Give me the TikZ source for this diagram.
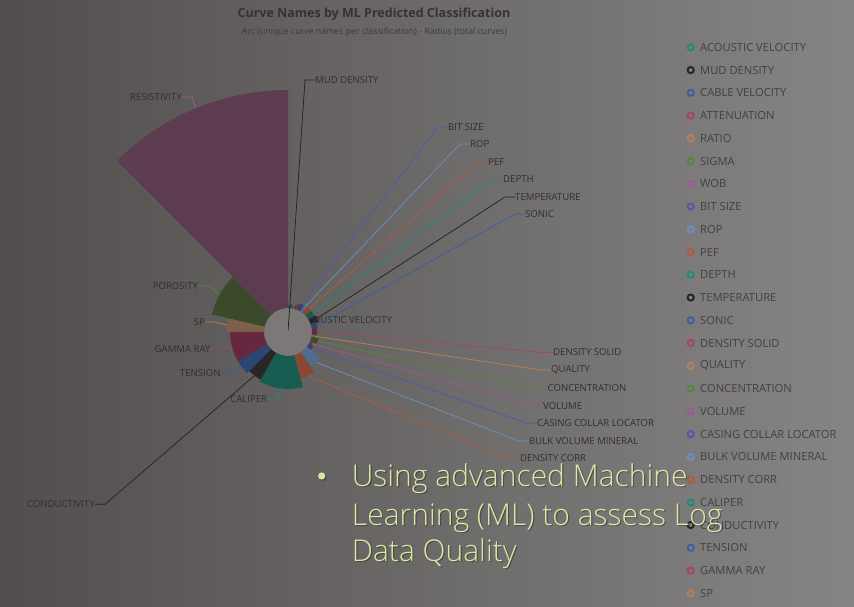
\documentclass[tikz,border=0pt]{standalone}
\usepackage{fontspec}
\setmainfont{Open Sans}
\IfFontExistsTF{OpenSans-Light.ttf}{\newfontfamily\bulletfont{OpenSans-Light.ttf}}{%
 \IfFontExistsTF{OpenSans-Light.otf}{\newfontfamily\bulletfont{OpenSans-Light.otf}}{%
  \IfFontExistsTF{Open Sans Light}{\newfontfamily\bulletfont{Open Sans Light}}{%
   \IfFontExistsTF{NotoSans-Light.ttf}{\newfontfamily\bulletfont{NotoSans-Light.ttf}}{%
    \IfFontExistsTF{Noto Sans Light}{\newfontfamily\bulletfont{Noto Sans Light}}{%
     \newfontfamily\bulletfont{Open Sans}}}}}}
\definecolor{bgL}{RGB}{82,78,78}
\definecolor{bgR}{RGB}{134,132,132}
\definecolor{holec}{RGB}{124,120,120}
\definecolor{labc}{RGB}{50,46,46}
\definecolor{legc}{RGB}{68,64,64}
\definecolor{titc}{RGB}{54,50,50}
\definecolor{subc}{RGB}{62,58,58}
\definecolor{bulc}{RGB}{222,232,162}
\definecolor{sA}{RGB}{22,92,80}
\definecolor{sB}{RGB}{40,38,38}
\definecolor{sC}{RGB}{44,70,115}
\definecolor{sD}{RGB}{102,40,62}
\definecolor{sE}{RGB}{125,95,75}
\definecolor{sF}{RGB}{58,74,42}
\definecolor{sG}{RGB}{94,60,80}
\definecolor{sH}{RGB}{62,62,120}
\definecolor{sI}{RGB}{80,110,140}
\definecolor{sJ}{RGB}{138,72,50}
\definecolor{lA}{RGB}{30,140,120}
\definecolor{lB}{RGB}{36,36,36}
\definecolor{lC}{RGB}{55,95,165}
\definecolor{lD}{RGB}{165,70,95}
\definecolor{lE}{RGB}{180,130,90}
\definecolor{lF}{RGB}{85,135,55}
\definecolor{lG}{RGB}{165,85,145}
\definecolor{lH}{RGB}{85,85,170}
\definecolor{lI}{RGB}{105,145,190}
\definecolor{lJ}{RGB}{180,90,60}
\newcommand\rosesl[5]{%
  \fill[#2] (#3:24) arc[start angle=#3, end angle=#4, radius=24] -- (#4:#5) arc[start angle=#4, end angle=#3, radius=#5] -- cycle;
  \coordinate (#1) at ({(#3+#4)/2}:#5);
}
\begin{document}
\begin{tikzpicture}[x=1pt,y=-1pt,
  lab/.style={font=\fontsize{9.6}{11}\selectfont, text=labc, inner sep=0pt},
  leg/.style={font=\fontsize{11.2}{13}\selectfont, text=legc, inner sep=0pt, anchor=west},
  lead/.style={line width=0.75pt},
  ring/.style={line width=1.9pt},
  bul/.style={font=\bulletfont\fontsize{30}{37}\selectfont, inner sep=0pt, anchor=base west, text=bulc},
  bulsh/.style={font=\bulletfont\fontsize{30}{37}\selectfont, inner sep=0pt, anchor=base west, text=black, opacity=0.3}]
\useasboundingbox (0,0) rectangle (854,607);
\shade[left color=bgL, right color=bgR] (0,0) rectangle (854,607);
% title
\node[font=\bfseries\fontsize{12.5}{14}\selectfont, text=titc, inner sep=0pt] (title) at (374,14) {Curve Names by ML Predicted Classification};
\node[font=\fontsize{8.8}{10}\selectfont, text=subc, inner sep=0pt] (subtitle) at (374.5,32) {Arc (unique curve names per classification) - Radius (total curves)};
% label partly hidden by slices
\node[lab, anchor=west] (Lav) at (301,320) {ACOUSTIC VELOCITY};
% chart
\begin{scope}[shift={(288,332)}, y=1pt]
  \fill[holec] (0,0) circle[radius=24];
  \rosesl{av}{sA}{90}{87}{27}
  \coordinate (md) at (86:2);
  \rosesl{cv}{sC}{85}{82}{28}
  \rosesl{at}{sD}{82}{78}{27}
  \rosesl{ra}{sE}{78}{75}{29}
  \rosesl{si}{sF}{75}{71}{28}
  \rosesl{wo}{sG}{71}{67}{30}
  \rosesl{bs}{sH}{67}{59}{31}
  \rosesl{rp}{sI}{59}{53}{30}
  \rosesl{pe}{sJ}{53}{43}{32}
  \rosesl{de}{sA}{43}{31}{31}
  \rosesl{te}{sB}{31}{19}{32}
  \rosesl{so}{sC}{19}{8}{30}
  \rosesl{ds}{sD}{8}{-6}{29}
  \rosesl{qu}{sE}{-6}{-12}{28}
  \rosesl{co}{sF}{-12}{-22}{31}
  \rosesl{vo}{sG}{-22}{-29}{27}
  \rosesl{cc}{sH}{-29}{-38}{29}
  \rosesl{bv}{sI}{-38}{-57}{41}
  \rosesl{dc}{sJ}{-57}{-75}{48}
  \rosesl{ca}{sA}{-75}{-120}{57}
  \rosesl{cd}{sB}{-120}{-135}{55}
  \rosesl{tn}{sC}{-135}{-150}{58}
  \rosesl{gr}{sD}{-150}{-180}{58}
  \rosesl{sp}{sE}{-180}{-193}{62}
  \rosesl{po}{sF}{-193}{-225}{78}
  \rosesl{re}{sG}{-225}{-270}{242}
\end{scope}
% labels right (top)
\node[lab, anchor=west] (Lmd) at (315,80) {MUD DENSITY};
\node[lab, anchor=west] (Lbs) at (448,127) {BIT SIZE};
\node[lab, anchor=west] (Lrp) at (470,144) {ROP};
\node[lab, anchor=west] (Lpe) at (488,162) {PEF};
\node[lab, anchor=west] (Lde) at (503,179) {DEPTH};
\node[lab, anchor=west] (Lte) at (515,197) {TEMPERATURE};
\node[lab, anchor=west] (Lso) at (525,214) {SONIC};
% labels right (bottom)
\node[lab, anchor=west] (Lds) at (553,352.5) {DENSITY SOLID};
\node[lab, anchor=west] (Lqu) at (551,370) {QUALITY};
\node[lab, anchor=west] (Lco) at (547.5,388.3) {CONCENTRATION};
\node[lab, anchor=west] (Lvo) at (543,405.7) {VOLUME};
\node[lab, anchor=west] (Lcc) at (537,423.3) {CASING COLLAR LOCATOR};
\node[lab, anchor=west] (Lbv) at (529,441) {BULK VOLUME MINERAL};
\node[lab, anchor=west] (Ldc) at (520,458.3) {DENSITY CORR};
% labels left
\node[lab, anchor=east] (Lre) at (182,97) {RESISTIVITY};
\node[lab, anchor=east] (Lpo) at (198.3,285.7) {POROSITY};
\node[lab, anchor=east] (Lsp) at (205,322) {SP};
\node[lab, anchor=east] (Lgr) at (210.7,349) {GAMMA RAY};
\node[lab, anchor=east] (Ltn) at (220.7,373.3) {TENSION};
\node[lab, anchor=east] (Lca) at (267.3,399.3) {CALIPER};
\node[lab, anchor=east] (Lcd) at (95,504.3) {CONDUCTIVITY};
% leader lines
\draw[lead, lB] (md) -- ([xshift=-10pt]Lmd.west) -- (Lmd.west);
\foreach \s/\c in {bs/lH, rp/lI, pe/lJ, de/lA, te/lB, so/lC, ds/lD, qu/lE, co/lF, vo/lG, cc/lH, bv/lI, dc/lJ}
  \draw[lead, \c] (\s) -- ([xshift=-10pt]L\s.west) -- (L\s.west);
\foreach \s/\c in {re/lG, po/lF, sp/lE, gr/lD, tn/lC, ca/lA, cd/lB}
  \draw[lead, \c] (\s) -- ([xshift=10pt]L\s.east) -- (L\s.east);
% legend
\foreach \t/\c [count=\i from 0] in {ACOUSTIC VELOCITY/lA, MUD DENSITY/lB, CABLE VELOCITY/lC, ATTENUATION/lD, RATIO/lE, SIGMA/lF, WOB/lG, BIT SIZE/lH, ROP/lI, PEF/lJ, DEPTH/lA, TEMPERATURE/lB, SONIC/lC, DENSITY SOLID/lD, QUALITY/lE, CONCENTRATION/lF, VOLUME/lG, CASING COLLAR LOCATOR/lH, BULK VOLUME MINERAL/lI, DENSITY CORR/lJ, CALIPER/lA, CONDUCTIVITY/lB, TENSION/lC, GAMMA RAY/lD, SP/lE} {
  \draw[ring, \c] (690.7,{47.3+22.75*\i}) circle[radius=3.1];
  \node[leg] (leg\i) at (700,{47.3+22.75*\i}) {\t};
}
% bullet text
\fill[black, opacity=0.3] (322.9,477.2) circle[radius=3.6];
\fill[bulc] (321.7,476) circle[radius=3.6];
\node[bulsh] (sh1) at (352.9,487.9) {Using advanced Machine};
\node[bulsh] (sh2) at (352.9,526.2) {Learning (ML) to assess Log};
\node[bulsh] (sh3) at (352.9,562.9) {Data Quality};
\node[bul] (b1) at (351.7,486.7) {Using advanced Machine};
\node[bul] (b2) at (351.7,525) {Learning (ML) to assess Log};
\node[bul] (b3) at (351.7,561.7) {Data Quality};
\end{tikzpicture}
\end{document}
